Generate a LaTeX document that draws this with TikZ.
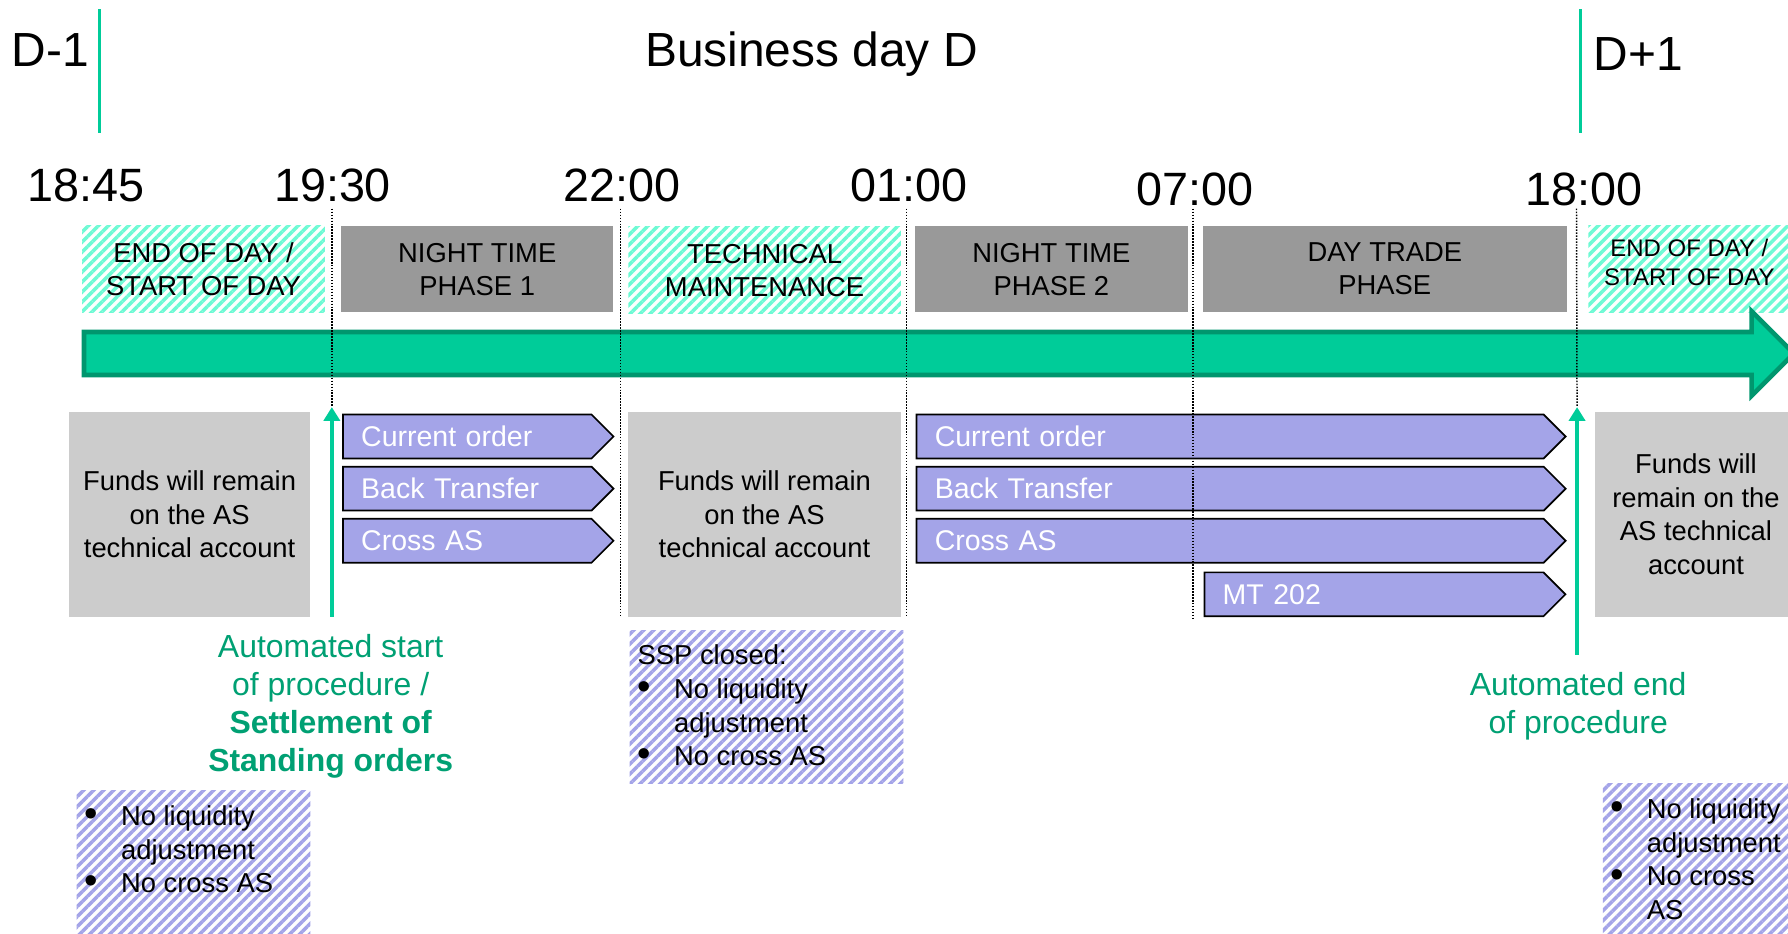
\documentclass[tikz,border=0pt]{standalone}
\usepackage{fontspec}
\setmainfont{Liberation Sans}
\usetikzlibrary{shapes,arrows,arrows.meta,positioning,patterns.meta}
\definecolor{barfill}{RGB}{0,204,153}
\definecolor{barline}{RGB}{0,150,110}
\definecolor{autogreen}{RGB}{0,160,115}
\definecolor{phasegray}{RGB}{153,153,153}
\definecolor{fundgray}{RGB}{204,204,204}
\definecolor{lavender}{RGB}{164,164,232}
\definecolor{minthatch}{RGB}{110,250,212}
\newcommand{\blt}{\makebox[32pt][l]{\raisebox{-1pt}{\scalebox{1.4}{\textbullet}}}}
\newcommand{\bltgap}{\hspace*{32pt}}

\begin{document}
\begin{tikzpicture}[x=1pt, y=-1pt, >={Triangle[length=12pt,width=14pt]}]
        \tikzstyle{phase}=[fill=phasegray, inner sep=0pt, minimum height=76pt, align=center, font=\fontsize{24}{29}\selectfont]
        \tikzstyle{mint}=[phase, fill=none, pattern={Lines[angle=45,distance=6.2pt,line width=3.1pt]}, pattern color=minthatch]
        \tikzstyle{funds}=[fill=fundgray, inner sep=0pt, minimum height=180pt, align=center, font=\fontsize{24}{29.5}\selectfont]
        \tikzstyle{chev}=[signal, signal to=east, signal pointer angle=90, fill=lavender, draw=black, line width=1.5pt, text=white, align=left, inner xsep=16pt, inner ysep=0pt, minimum height=38.5pt, font=\fontsize{25}{30}\selectfont]
        \tikzstyle{lilac}=[inner sep=0pt, anchor=north west, pattern={Lines[angle=45,distance=6.2pt,line width=3.1pt]}, pattern color=lavender]
        \tikzstyle{listtext}=[inner sep=0pt, anchor=north west, align=left, font=\fontsize{24}{29.5}\selectfont]
        \tikzstyle{clock}=[inner sep=0pt, anchor=base, font=\fontsize{41}{41}\selectfont]
        \tikzstyle{daylabel}=[inner sep=0pt, anchor=base west, font=\fontsize{42}{42}\selectfont]
        \tikzstyle{procnote}=[inner sep=0pt, anchor=north, align=center, text=autogreen, font=\fontsize{28}{33.5}\selectfont]
        \tikzstyle{timeline}=[single arrow, single arrow head extend=18.15pt, single arrow tip angle=90, fill=barfill, draw=barline, line width=4pt, inner xsep=0pt, inner ysep=16.85pt, outer sep=0pt, minimum height=1499.5pt, anchor=west]
        \tikzstyle{cutline}=[dash pattern=on 1.3pt off 1.3pt, line width=1.3pt]
        \tikzstyle{dayline}=[barfill, line width=2.5pt]
        \tikzstyle{trigger}=[->, barfill, line width=3.3pt]
        \useasboundingbox (0,0) rectangle (1568,819);

        % days
        \node[daylabel] (dprev) at (10,58.5)     {D-1};
        \node[daylabel] (dcur)  at (565.5,58.5)  {Business day D};
        \node[daylabel] (dnext) at (1397.5,61.4) {D+1};
        \draw[dayline] (87.3,8) -- (87.3,116.5);
        \draw[dayline] (1386,8) -- (1386,116.5);

        % clock times
        \node[clock] (t1845) at (75,177)     {18:45};
        \node[clock] (t1930) at (291.6,177)  {19:30};
        \node[clock] (t2200) at (545.5,177)  {22:00};
        \node[clock] (t0100) at (797.5,177)  {01:00};
        \node[clock] (t0700) at (1048,180.6) {07:00};
        \node[clock] (t1800) at (1389,180.6) {18:00};

        % phases
        \node[mint, minimum width=213pt]    (eod)     at (178.5,236)  {END OF DAY /\\START OF DAY};
        \node[phase, minimum width=239pt]   (night1)  at (418.5,236)  {NIGHT TIME\\PHASE 1};
        \node[mint, minimum width=239pt]    (maint)   at (670.5,237)  {TECHNICAL\\MAINTENANCE};
        \node[phase, minimum width=239.5pt] (night2)  at (922,236)    {NIGHT TIME\\PHASE 2};
        \node[phase, minimum width=319.5pt] (trade)   at (1214.4,236) {DAY TRADE\\PHASE};
        \node[mint, minimum width=177pt, label={[yshift=6pt, align=center, font=\fontsize{21}{26}\selectfont]center:END OF DAY /\\START OF DAY}] (eodnext) at (1481.5,236) {};

        % timeline
        \node[timeline] (bar) at (73.5,310) {};

        % funds
        \node[funds, minimum width=211.5pt] (hold1) at (166.3,451)  {Funds will remain\\on the AS\\technical account};
        \node[funds, minimum width=239.5pt] (hold2) at (670.4,451)  {Funds will remain\\on the AS\\technical account};
        \node[funds, minimum width=177.5pt] (hold3) at (1487.3,451) {Funds will\\remain on the\\AS technical\\account};

        % orders
        \node[chev, text width=186pt, anchor=west] (cur1) at (300,382.8) {Current order};
        \node[chev, text width=186pt, below=5.7pt of cur1]  (back1)  {Back Transfer};
        \node[chev, text width=186pt, below=5.7pt of back1] (cross1) {Cross AS};
        \node[chev, text width=518pt, anchor=west] (cur2) at (803,382.8) {Current order};
        \node[chev, text width=518pt, below=5.7pt of cur2]  (back2)  {Back Transfer};
        \node[chev, text width=518pt, below=5.7pt of back2] (cross2) {Cross AS};
        \node[chev, text width=265.25pt, anchor=west] (mt) at (1055.5,521.2) {MT 202};

        % phase borders
        \coordinate (go)      at (291,541);
        \coordinate (gotip)   at (291,357);
        \coordinate (stop)    at (1383,574);
        \coordinate (stoptip) at (1383,357);
        \draw[cutline] (291,183) -- (gotip);
        \draw[cutline] (544,183) -- (544,541);
        \draw[cutline] (795,183) -- (795,541);
        \draw[cutline] (1046,183) -- (1046,543);
        \draw[cutline] (1382.5,183) -- (stoptip);
        \draw[trigger] (go) -- (gotip);
        \draw[trigger] (stop) -- (stoptip);

        \node[procnote] (startnote) at (290,556) {Automated start\\of procedure /\\\textbf{Settlement of}\\\textbf{Standing orders}};
        \node[procnote] (endnote) at (1384,589) {Automated end\\of procedure};

        % restrictions
        \node[lilac, minimum width=205pt, minimum height=140pt] (rule1) at (67,693) {};
        \node[listtext] (rule1txt) at (74,706.3) {\blt No liquidity\\\bltgap adjustment\\\blt No cross AS};
        \node[lilac, minimum width=240pt, minimum height=133.5pt] (rule2) at (552,553) {};
        \node[listtext] (rule2txt) at (559,565.5) {SSP closed:\\\blt No liquidity\\\bltgap adjustment\\\blt No cross AS};
        \node[lilac, minimum width=170pt, minimum height=140pt] (rule3) at (1405.4,686.5) {};
        \node[listtext] (rule3txt) at (1412,700.3) {\blt No liquidity\\\bltgap adjustment\\\blt No cross\\\bltgap AS};
\end{tikzpicture}
\end{document}
